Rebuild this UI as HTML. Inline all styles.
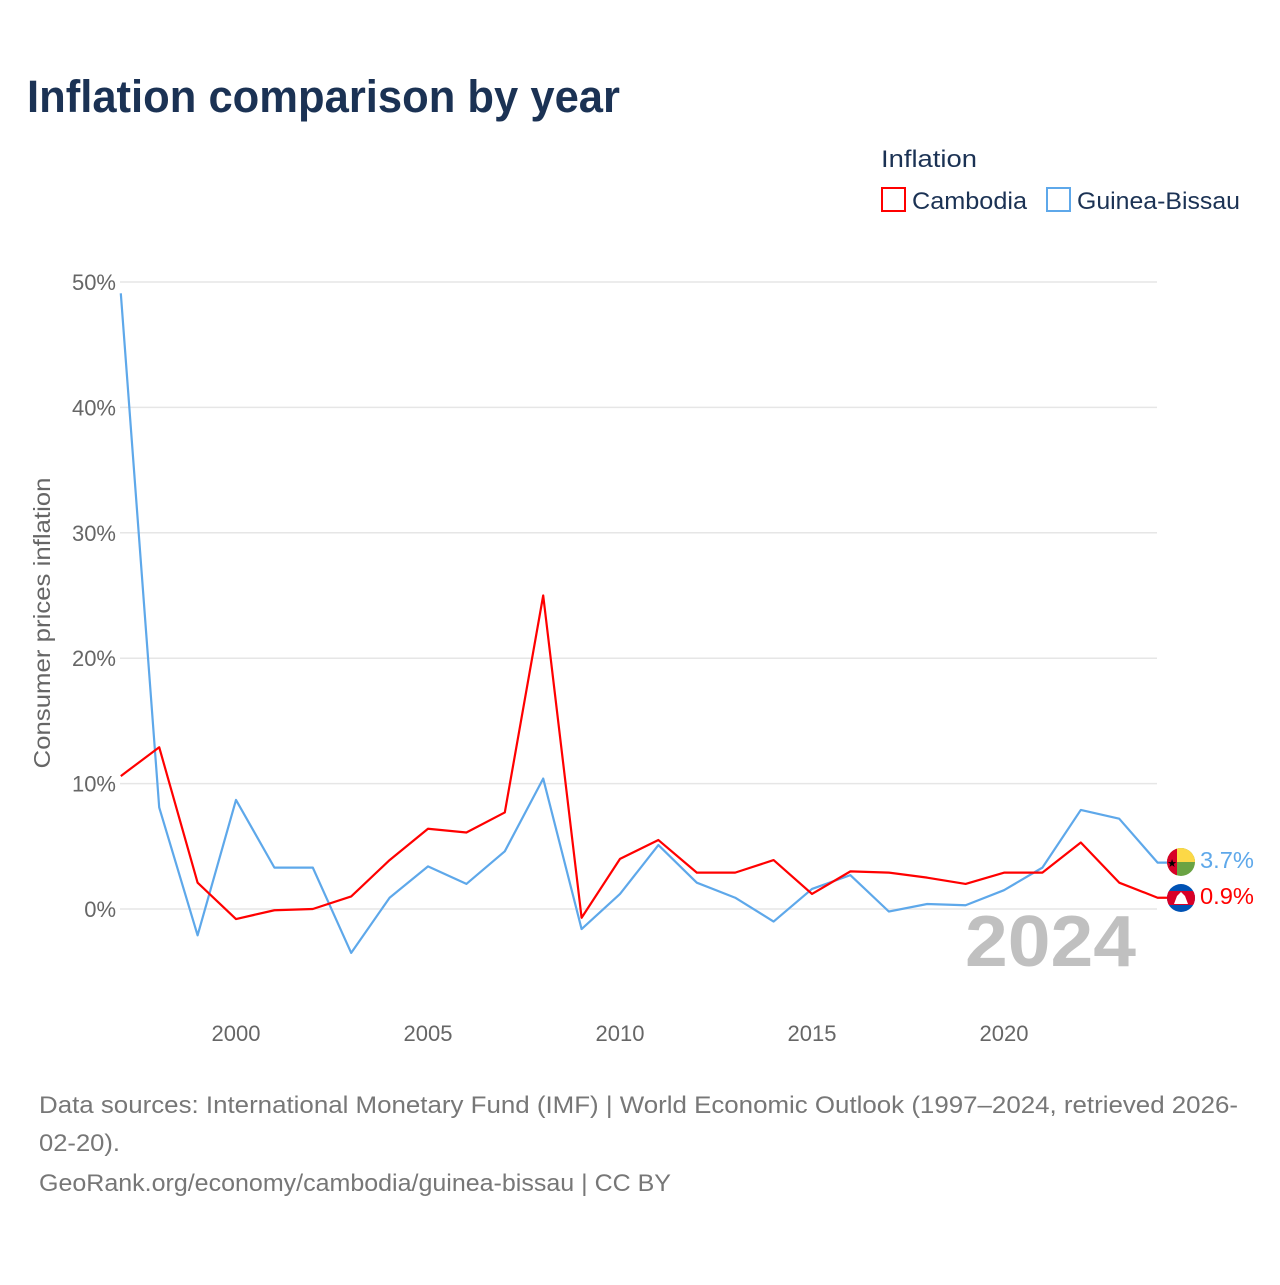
<!DOCTYPE html>
<html><head><meta charset="utf-8"><style>
body{margin:0;background:#fff;font-family:"Liberation Sans",sans-serif}
svg text{font-family:"Liberation Sans",sans-serif}
</style></head><body>
<svg id="chart" width="1280" height="1280" xmlns="http://www.w3.org/2000/svg">
<rect width="1280" height="1280" fill="#fff"/>
<text x="27" y="112" font-size="45" font-weight="bold" fill="#1b3254" textLength="593" lengthAdjust="spacingAndGlyphs">Inflation comparison by year</text>
<text x="881" y="167" font-size="24" fill="#1b3254" textLength="96" lengthAdjust="spacingAndGlyphs">Inflation</text>
<g><rect x="882" y="188" width="23" height="23" fill="none" stroke="#ff0000" stroke-width="2"/><text x="912" y="209" font-size="24" fill="#1b3254" textLength="115" lengthAdjust="spacingAndGlyphs">Cambodia</text></g>
<g><rect x="1047" y="188" width="23" height="23" fill="none" stroke="#5ea8ea" stroke-width="2"/><text x="1077" y="209" font-size="24" fill="#1b3254" textLength="163" lengthAdjust="spacingAndGlyphs">Guinea-Bissau</text></g>
<text transform="translate(50,623) rotate(-90)" text-anchor="middle" font-size="23" fill="#666" textLength="291" lengthAdjust="spacingAndGlyphs">Consumer prices inflation</text>
<g id="grid"></g><g id="xt"></g>
<text x="1136" y="966" text-anchor="end" font-size="72" font-weight="bold" fill="#c0c0c0" textLength="171" lengthAdjust="spacingAndGlyphs">2024</text>
<g id="lines"></g>
<g><clipPath id="c1"><circle cx="1181" cy="862" r="14"/></clipPath><g clip-path="url(#c1)"><rect x="1167" y="848" width="28" height="28" fill="#6aa343"/><rect x="1176" y="848" width="19" height="14" fill="#fcd846"/><rect x="1167" y="848" width="10" height="28" fill="#d80027"/></g><text x="1172" y="867" font-size="11" text-anchor="middle">★</text></g>
<g><clipPath id="c2"><circle cx="1181" cy="898" r="14"/></clipPath><g clip-path="url(#c2)"><rect x="1167" y="884" width="28" height="28" fill="#0052b4"/><rect x="1167" y="891" width="28" height="14" fill="#d80027"/><polygon points="1174,904 1188,904 1185,896 1181,892 1177,896" fill="#fff"/></g></g>
<text x="1200" y="868" font-size="23" fill="#5ea8ea" textLength="54" lengthAdjust="spacingAndGlyphs">3.7%</text>
<text x="1200" y="904" font-size="23" fill="#ff0000" textLength="54" lengthAdjust="spacingAndGlyphs">0.9%</text>
<text font-size="24" fill="#777"><tspan x="39" y="1113" textLength="1199" lengthAdjust="spacingAndGlyphs">Data sources: International Monetary Fund (IMF) | World Economic Outlook (1997–2024, retrieved 2026-</tspan><tspan x="39" y="1151" textLength="81" lengthAdjust="spacingAndGlyphs">02-20).</tspan><tspan x="39" y="1191" textLength="632" lengthAdjust="spacingAndGlyphs">GeoRank.org/economy/cambodia/guinea-bissau | CC BY</tspan></text>
</svg>
<script>
const years=[1997,1998,1999,2000,2001,2002,2003,2004,2005,2006,2007,2008,2009,2010,2011,2012,2013,2014,2015,2016,2017,2018,2019,2020,2021,2022,2023,2024];
const cambodia=[10.6,12.9,2.1,-0.8,-0.1,0.0,1.0,3.9,6.4,6.1,7.7,25.0,-0.7,4.0,5.5,2.9,2.9,3.9,1.2,3.0,2.9,2.5,2.0,2.9,2.9,5.3,2.1,0.9];
const guineaBissau=[49.1,8.1,-2.1,8.7,3.3,3.3,-3.5,0.9,3.4,2.0,4.6,10.4,-1.6,1.2,5.1,2.1,0.9,-1.0,1.6,2.7,-0.2,0.4,0.3,1.5,3.3,7.9,7.2,3.7];
const yTicks=[0,10,20,30,40,50];
const xTicks=[2000,2005,2010,2015,2020];
const NS="http://www.w3.org/2000/svg";
const X=y=>120.8+(y-1997)*38.4;
const Y=v=>909-v*12.54;
function mk(t,a,p){const e=document.createElementNS(NS,t);for(const k in a)e.setAttribute(k,a[k]);p.appendChild(e);return e;}
const g=document.getElementById('grid');
yTicks.forEach(v=>{
 const l=mk('line',{x1:120,x2:1157,y1:Y(v),y2:Y(v),stroke:'#e6e6e6','stroke-width':1.5},g);
 
 
 const t=mk('text',{x:116,y:Y(v)+8,'text-anchor':'end','font-size':22,fill:'#666'},g);
 t.textContent=v+'%';
 
 
});
const xt=document.getElementById('xt');
xTicks.forEach(v=>{
 const t=mk('text',{x:X(v),y:1041,'text-anchor':'middle','font-size':22,fill:'#666'},xt);
 t.textContent=v;
 
 
});
const lg=document.getElementById('lines');
[[guineaBissau,'#5ea8ea','line-guinea-bissau'],[cambodia,'#ff0000','line-cambodia']].forEach(([d,c,n])=>{
 const p=mk('polyline',{points:d.map((v,i)=>X(years[i])+','+Y(v)).join(' ')+' '+(X(2024)+10)+','+Y(d[d.length-1]),fill:'none',stroke:c,'stroke-width':2.2,'stroke-linejoin':'round'},lg);
 
 
});
</script>
</body></html>
